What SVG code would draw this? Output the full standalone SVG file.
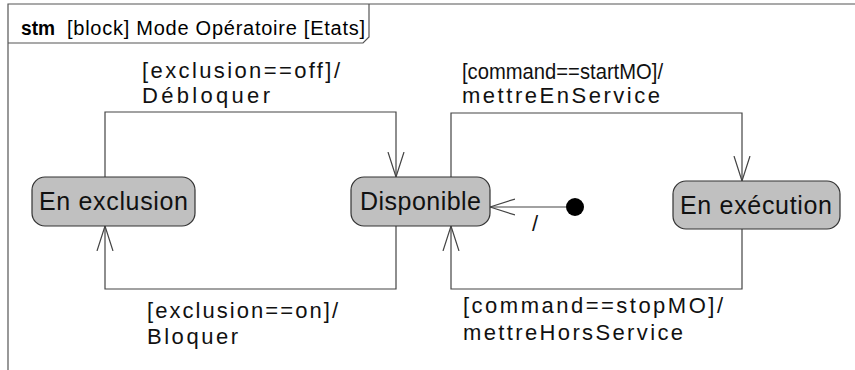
<svg xmlns="http://www.w3.org/2000/svg" width="855" height="370" viewBox="0 0 855 370">
<style>
.frame{fill:none;stroke:#555;stroke-width:1.2}
.state{fill:#c0c0c0;stroke:#333;stroke-width:1.2}
.st{font-family:"Liberation Sans",Arial,sans-serif;font-size:25px;fill:#111}
.lbl{font-family:"Liberation Sans",Arial,sans-serif;font-size:22px;fill:#111}
.ttl{font-family:"Liberation Sans",Arial,sans-serif;font-size:20px;fill:#000}
.conn{fill:none;stroke:#444;stroke-width:1.2}
</style>
<defs>
<marker id="open" viewBox="0 0 26 18" refX="25" refY="9" markerWidth="26" markerHeight="18" markerUnits="userSpaceOnUse" orient="auto">
<path d="M0,1 L25,9 L0,17" fill="none" stroke="#444" stroke-width="1.2"/>
</marker>
</defs>
<rect width="855" height="370" fill="#fff"/>
<g id="frame">
<path class="frame" d="M8,370 V4 H860"/>
<path class="frame" d="M8,43 H363 L369,37 V4"/>
<text class="ttl" x="21" y="35" font-weight="bold" textLength="34" lengthAdjust="spacingAndGlyphs">stm</text>
<text class="ttl" x="67" y="35" textLength="298" lengthAdjust="spacing">[block] Mode Opératoire [Etats]</text>
</g>
<g id="connectors">
<path class="conn" d="M105,177 V112 H396 V177" marker-end="url(#open)"/>
<path class="conn" d="M396,226 V289 H105 V226" marker-end="url(#open)"/>
<path class="conn" d="M451,177 V113 H742 V181" marker-end="url(#open)"/>
<path class="conn" d="M742,229 V289 H451 V226" marker-end="url(#open)"/>
<path class="conn" d="M566,207 H490" marker-end="url(#open)"/>
<text class="lbl" x="142" y="78" textLength="198" lengthAdjust="spacing">[exclusion==off]/</text>
<text class="lbl" x="142" y="103" textLength="128" lengthAdjust="spacing">Débloquer</text>
<text class="lbl" x="462" y="79" textLength="201" lengthAdjust="spacingAndGlyphs">[command==startMO]/</text>
<text class="lbl" x="462" y="103" textLength="198" lengthAdjust="spacing">mettreEnService</text>
<text class="lbl" x="147" y="318" textLength="191" lengthAdjust="spacing">[exclusion==on]/</text>
<text class="lbl" x="147" y="344" textLength="91" lengthAdjust="spacing">Bloquer</text>
<text class="lbl" x="463" y="313" textLength="260" lengthAdjust="spacing">[command==stopMO]/</text>
<text class="lbl" x="463" y="340" textLength="220" lengthAdjust="spacing">mettreHorsService</text>
<text class="lbl" x="532" y="231">/</text>
</g>
<g id="initial">
<circle cx="575" cy="207" r="9" fill="#000"/>
</g>
<g id="en-exclusion">
<rect class="state" x="32" y="177" width="163" height="49" rx="13"/>
<text class="st" x="39" y="210" textLength="149" lengthAdjust="spacing">En exclusion</text>
</g>
<g id="disponible">
<rect class="state" x="351" y="177" width="139" height="49" rx="13"/>
<text class="st" x="360" y="210" textLength="121" lengthAdjust="spacing">Disponible</text>
</g>
<g id="en-execution">
<rect class="state" x="673" y="181" width="167" height="48" rx="13"/>
<text class="st" x="680" y="214" textLength="152" lengthAdjust="spacing">En exécution</text>
</g>
</svg>
